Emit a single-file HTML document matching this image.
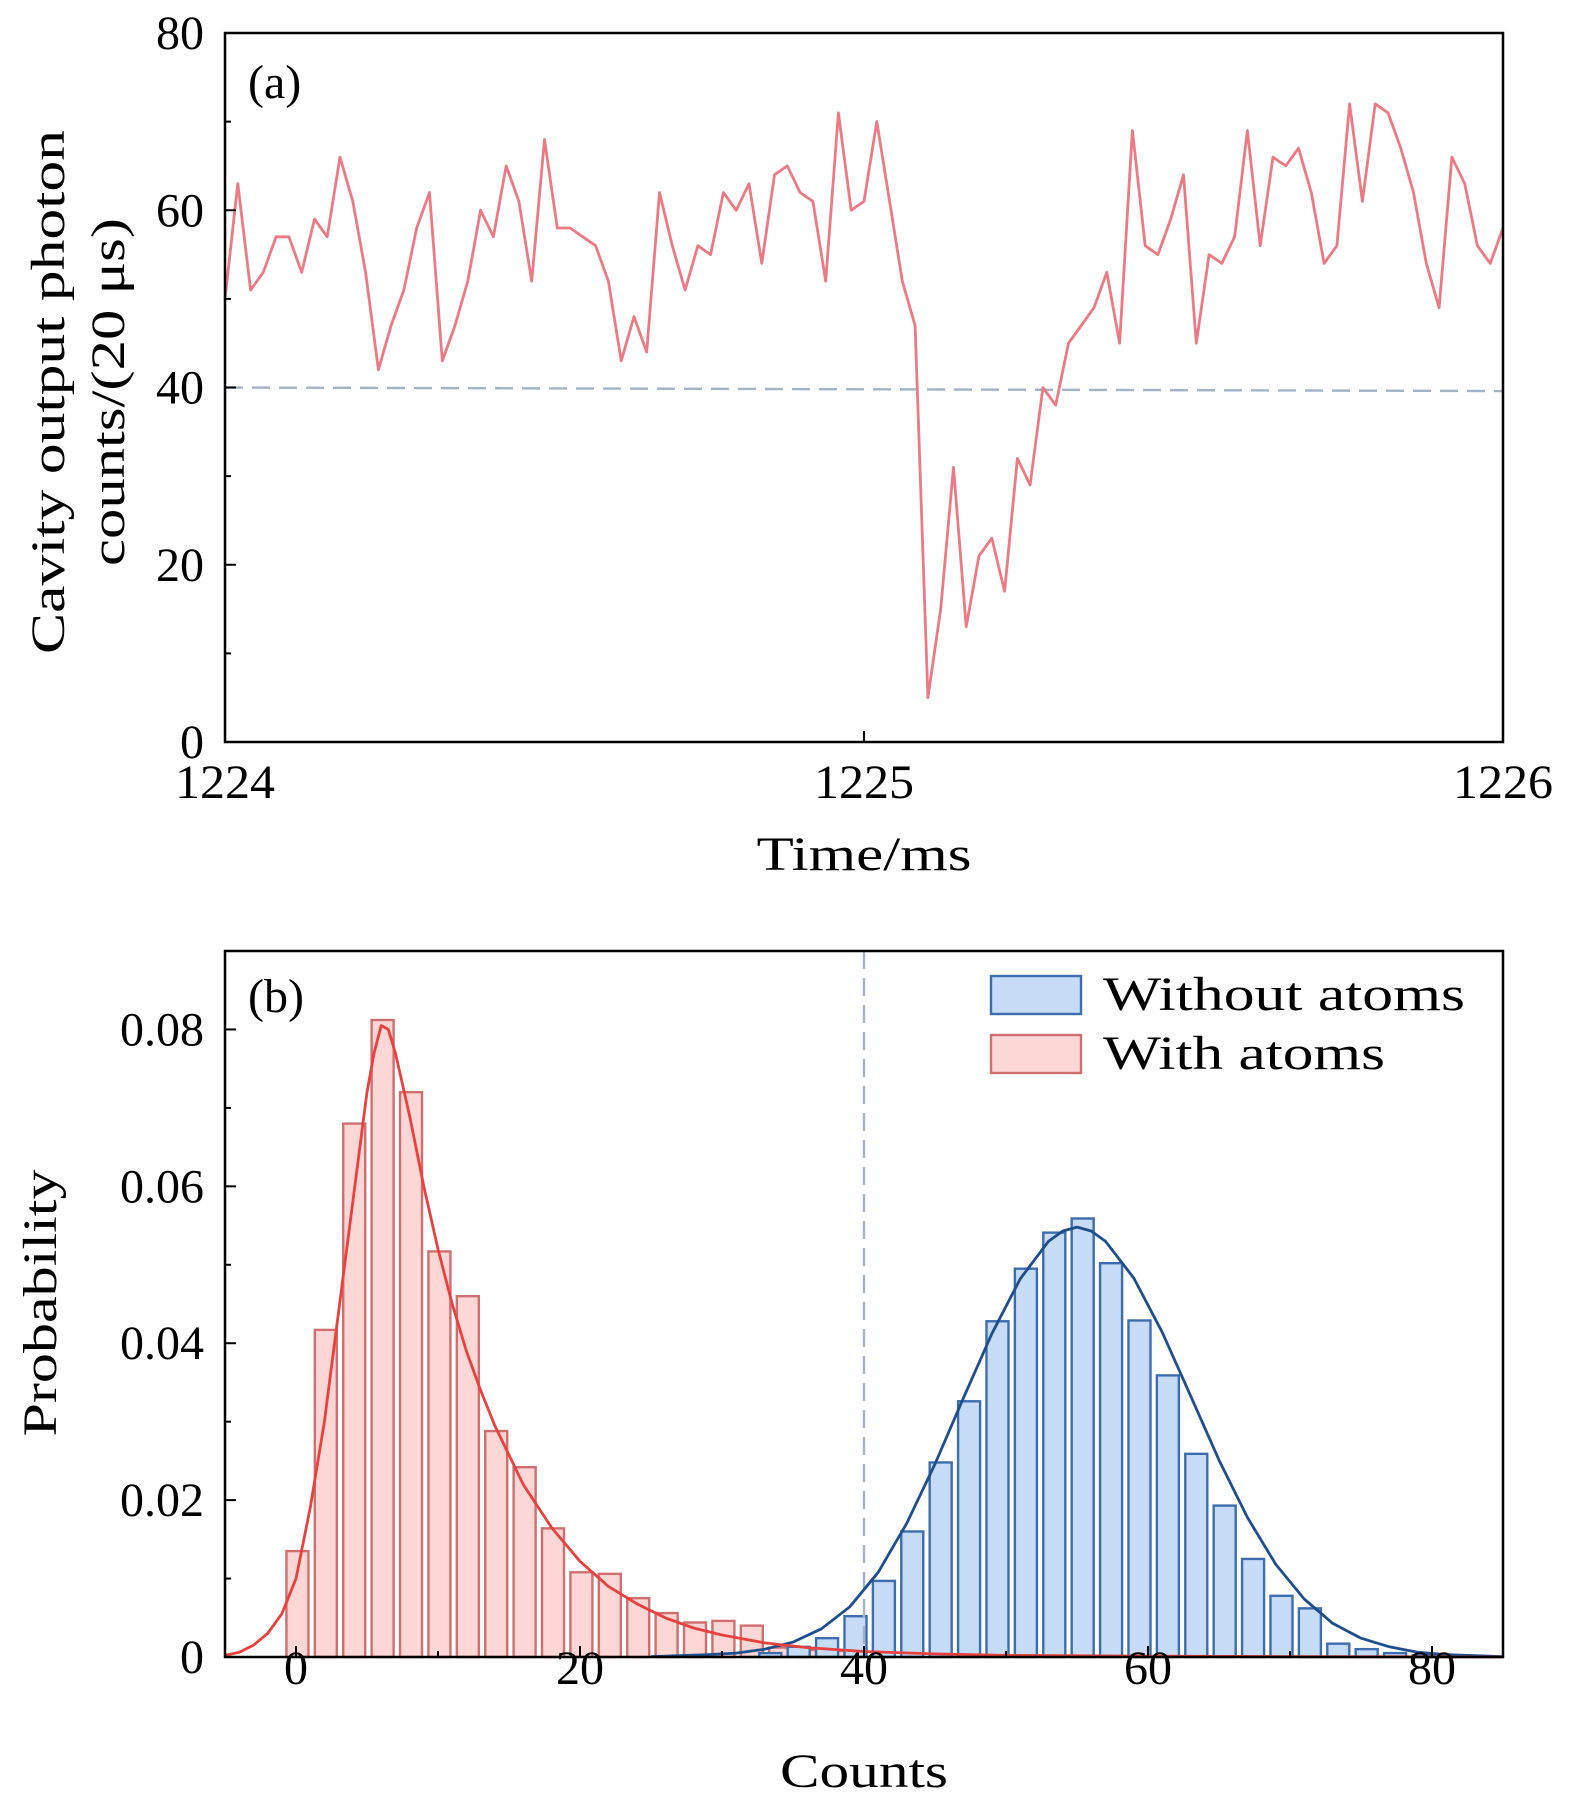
<!DOCTYPE html>
<html><head><meta charset="utf-8"><style>
html,body{margin:0;padding:0;background:#fff;}
svg{display:block;font-family:"Liberation Serif",serif;}
</style></head><body>
<svg id="chart" width="1575" height="1808" viewBox="0 0 1575 1808" xmlns="http://www.w3.org/2000/svg"></svg>
<script>
// ---------- Panel (a) data ----------
const timeStart = 1224, timeStep = 0.02;
const photonCounts = [50,63,51,53,57,57,53,59,57,66,61,53,42,47,51,58,62,43,47,52,60,57,65,61,52,68,58,58,57,56,52,43,48,44,62,56,51,56,55,62,60,63,54,64,65,62,61,52,71,60,61,70,61,52,47,5,15,31,13,21,23,17,32,29,40,38,45,47,49,53,45,69,56,55,59,64,45,55,54,57,69,56,66,65,67,62,54,56,72,61,72,71,67,62,54,49,66,63,56,54,58];
const thresholdLine = [40, 39.6];
const aXTicks = [1224,1225,1226];
const aYTicks = [0,20,40,60,80];
// ---------- Panel (b) data ----------
const redCenters = [0.1,2.1,4.1,6.1,8.1,10.1,12.1,14.1,16.1,18.1,20.1,22.1,24.1,26.1,28.1,30.1,32.1,34.1,36.1,38.1];
const redValues = [0.0135,0.0417,0.068,0.0812,0.072,0.0517,0.046,0.0288,0.0242,0.0164,0.0108,0.0106,0.0075,0.0056,0.0044,0.0046,0.004,0.0012,0.0009,0.0008];
const blueCenters = [33.4,35.4,37.4,39.4,41.4,43.4,45.4,47.4,49.4,51.4,53.4,55.4,57.4,59.4,61.4,63.4,65.4,67.4,69.4,71.4,73.4,75.4,77.4,79.4];
const blueValues = [0.0005,0.0013,0.0024,0.0052,0.0097,0.016,0.0248,0.0326,0.0428,0.0495,0.0541,0.0559,0.0502,0.0429,0.0359,0.0259,0.0193,0.0125,0.0078,0.0062,0.0017,0.001,0.0005,0.0002];
const redFitX = [-5,-4,-3,-2,-1,0,1,2,3,4,5,5.5,6,6.5,7,8,9,10,11,12,13,14,16,18,20,22,24,26,28,30,33,36,40,45,50,60,70,85];
const redFitY = [0.0002,0.0006,0.0015,0.003,0.0055,0.01,0.019,0.03,0.044,0.058,0.072,0.077,0.0805,0.080,0.077,0.069,0.06,0.052,0.045,0.039,0.034,0.0295,0.022,0.0165,0.0122,0.009,0.0068,0.005,0.0037,0.0028,0.0018,0.0012,0.0007,0.0004,0.0002,0.0001,0.00005,0];
const blueFitX = [25,29,31,33,35,37,39,41,43,45,47,49,51,53,54,55,56,57,59,61,63,65,67,69,71,73,75,77,79,81,85];
const blueFitY = [0.00005,0.0003,0.0005,0.001,0.0019,0.0036,0.0064,0.0108,0.0170,0.0246,0.0330,0.0412,0.0482,0.0530,0.0543,0.0548,0.0543,0.0530,0.0483,0.0414,0.0333,0.0251,0.0178,0.0118,0.0074,0.0043,0.0024,0.0013,0.0006,0.0003,0.00005];
const bXTicks = [0,20,40,60,80];
const bYTicks = [0,0.02,0.04,0.06,0.08];
const bYLabels = ["0","0.02","0.04","0.06","0.08"];

const NS = "http://www.w3.org/2000/svg";
const svg = document.getElementById('chart');
const FS = 48;
function mk(tag, attrs, parent){
  const e = document.createElementNS(NS, tag);
  for (const k in attrs) e.setAttribute(k, attrs[k]);
  (parent||svg).appendChild(e);
  return e;
}
const A = {l:225, r:1503, t:33, b:742};
const ax = v => A.l + (v-1224)/2*(A.r-A.l);
const ay = v => A.b - v/80*(A.b-A.t);
const B = {l:225, r:1503, t:951, b:1657};
const bx = v => B.l + (v+5)/90*(B.r-B.l);
const by = v => B.b - v/0.09*(B.b-B.t);

// ===== Panel (a) =====
const gA = mk('g', {});


const thr = mk('line', {x1:A.l, y1:ay(thresholdLine[0]), x2:A.r, y2:ay(thresholdLine[1]), stroke:'#a3b3c6', 'stroke-width':2.4, 'stroke-dasharray':'18,9'}, gA);


let d = '';
photonCounts.forEach((v,i)=>{ d += (i?'L':'M') + ax(timeStart + i*timeStep).toFixed(1) + ',' + ay(v).toFixed(1); });
const trace = mk('path', {d:d, fill:'none', stroke:'#ec7a84', 'stroke-width':2.8, 'stroke-linejoin':'round'}, gA);


const frameA = mk('rect', {x:A.l, y:A.t, width:A.r-A.l, height:A.b-A.t, fill:'none', stroke:'#000', 'stroke-width':2.5}, gA);


aYTicks.forEach(v=>{
  mk('line', {x1:A.l, x2:A.l+11, y1:ay(v), y2:ay(v), stroke:'#000','stroke-width':2}, gA);
  const t = mk('text', {x:204, y:ay(v)+16, 'text-anchor':'end', 'font-size':FS}, gA);
  t.textContent = v;
  
  
});
[10,30,50,70].forEach(v=>mk('line', {x1:A.l, x2:A.l+6, y1:ay(v), y2:ay(v), stroke:'#000','stroke-width':2}, gA));
aXTicks.forEach(v=>{
  mk('line', {x1:ax(v), x2:ax(v), y1:A.b, y2:A.b-11, stroke:'#000','stroke-width':2}, gA);
  const t = mk('text', {x:ax(v), y:798, 'text-anchor':'middle', 'font-size':FS, textLength:100, lengthAdjust:'spacingAndGlyphs'}, gA);
  t.textContent = v;
  
  
});
let t;
t = mk('text', {x:248, y:98, 'font-size':FS}, gA); t.textContent = '(a)';


t = mk('text', {x:864, y:870, 'text-anchor':'middle', 'font-size':FS, textLength:215, lengthAdjust:'spacingAndGlyphs'}, gA); t.textContent = 'Time/ms';


t = mk('text', {x:0, y:0, 'text-anchor':'middle', 'font-size':FS, textLength:524, lengthAdjust:'spacingAndGlyphs', transform:'translate(64,392) rotate(-90)'}, gA); t.textContent = 'Cavity output photon';


t = mk('text', {x:0, y:0, 'text-anchor':'middle', 'font-size':FS, textLength:348, lengthAdjust:'spacingAndGlyphs', transform:'translate(124,392) rotate(-90)'}, gA); t.textContent = 'counts/(20 μs)';



// ===== Panel (b) =====
const gB = mk('g', {});


const barW = 1.55;
redCenters.forEach((c,i)=>{
  const r = mk('rect', {x:bx(c-barW/2), y:by(redValues[i]), width:bx(barW)-bx(0), height:B.b-by(redValues[i]), fill:'#fdd6d6', stroke:'#cf6f6f', 'stroke-width':2.4}, gB);
  
  
});
blueCenters.forEach((c,i)=>{
  const r = mk('rect', {x:bx(c-barW/2), y:by(blueValues[i]), width:bx(barW)-bx(0), height:B.b-by(blueValues[i]), fill:'#c6dbf5', stroke:'#3e6dad', 'stroke-width':2.4}, gB);
  
  
});
const vline = mk('line', {x1:bx(40), x2:bx(40), y1:B.t, y2:B.b, stroke:'#a3b3c6', 'stroke-width':2.4, 'stroke-dasharray':'18,9'}, gB);


function curve(xs, ys){ let s=''; xs.forEach((x,i)=>{ s += (i?'L':'M') + bx(x).toFixed(1) + ',' + by(ys[i]).toFixed(1); }); return s; }
const bc = mk('path', {d:curve(blueFitX, blueFitY), fill:'none', stroke:'#1f4e8c', 'stroke-width':2.8, 'stroke-linejoin':'round'}, gB);


const rc = mk('path', {d:curve(redFitX, redFitY), fill:'none', stroke:'#e8413f', 'stroke-width':2.8, 'stroke-linejoin':'round'}, gB);


const frameB = mk('rect', {x:B.l, y:B.t, width:B.r-B.l, height:B.b-B.t, fill:'none', stroke:'#000', 'stroke-width':2.5}, gB);


bYTicks.forEach((v,i)=>{
  mk('line', {x1:B.l, x2:B.l+11, y1:by(v), y2:by(v), stroke:'#000','stroke-width':2}, gB);
  const tt = mk('text', {x:204, y:by(v)+16, 'text-anchor':'end', 'font-size':FS}, gB);
  tt.textContent = bYLabels[i];
  
  
});
[0.01,0.03,0.05,0.07].forEach(v=>mk('line', {x1:B.l, x2:B.l+6, y1:by(v), y2:by(v), stroke:'#000','stroke-width':2}, gB));
bXTicks.forEach(v=>{
  mk('line', {x1:bx(v), x2:bx(v), y1:B.b, y2:B.b-11, stroke:'#000','stroke-width':2}, gB);
  const tt = mk('text', {x:bx(v), y:1684, 'text-anchor':'middle', 'font-size':FS}, gB);
  tt.textContent = v;
  
  
});
[10,30,50,70].forEach(v=>mk('line', {x1:bx(v), x2:bx(v), y1:B.b, y2:B.b-6, stroke:'#000','stroke-width':2}, gB));
t = mk('text', {x:248, y:1012, 'font-size':FS}, gB); t.textContent = '(b)';


t = mk('text', {x:864, y:1787, 'text-anchor':'middle', 'font-size':FS, textLength:168, lengthAdjust:'spacingAndGlyphs'}, gB); t.textContent = 'Counts';


t = mk('text', {x:0, y:0, 'text-anchor':'middle', 'font-size':FS, textLength:267, lengthAdjust:'spacingAndGlyphs', transform:'translate(56,1303) rotate(-90)'}, gB); t.textContent = 'Probability';


const lg = mk('g', {}, gB);


const s1 = mk('rect', {x:991, y:976, width:90, height:38, fill:'#c6dbf5', stroke:'#3e6dad', 'stroke-width':2.4}, lg);


t = mk('text', {x:1103, y:1010, 'font-size':FS, textLength:362, lengthAdjust:'spacingAndGlyphs'}, lg); t.textContent = 'Without atoms';


const s2 = mk('rect', {x:991, y:1035, width:90, height:38, fill:'#fdd6d6', stroke:'#cf6f6f', 'stroke-width':2.4}, lg);


t = mk('text', {x:1103, y:1069, 'font-size':FS, textLength:282, lengthAdjust:'spacingAndGlyphs'}, lg); t.textContent = 'With atoms';


</script>
</body></html>
